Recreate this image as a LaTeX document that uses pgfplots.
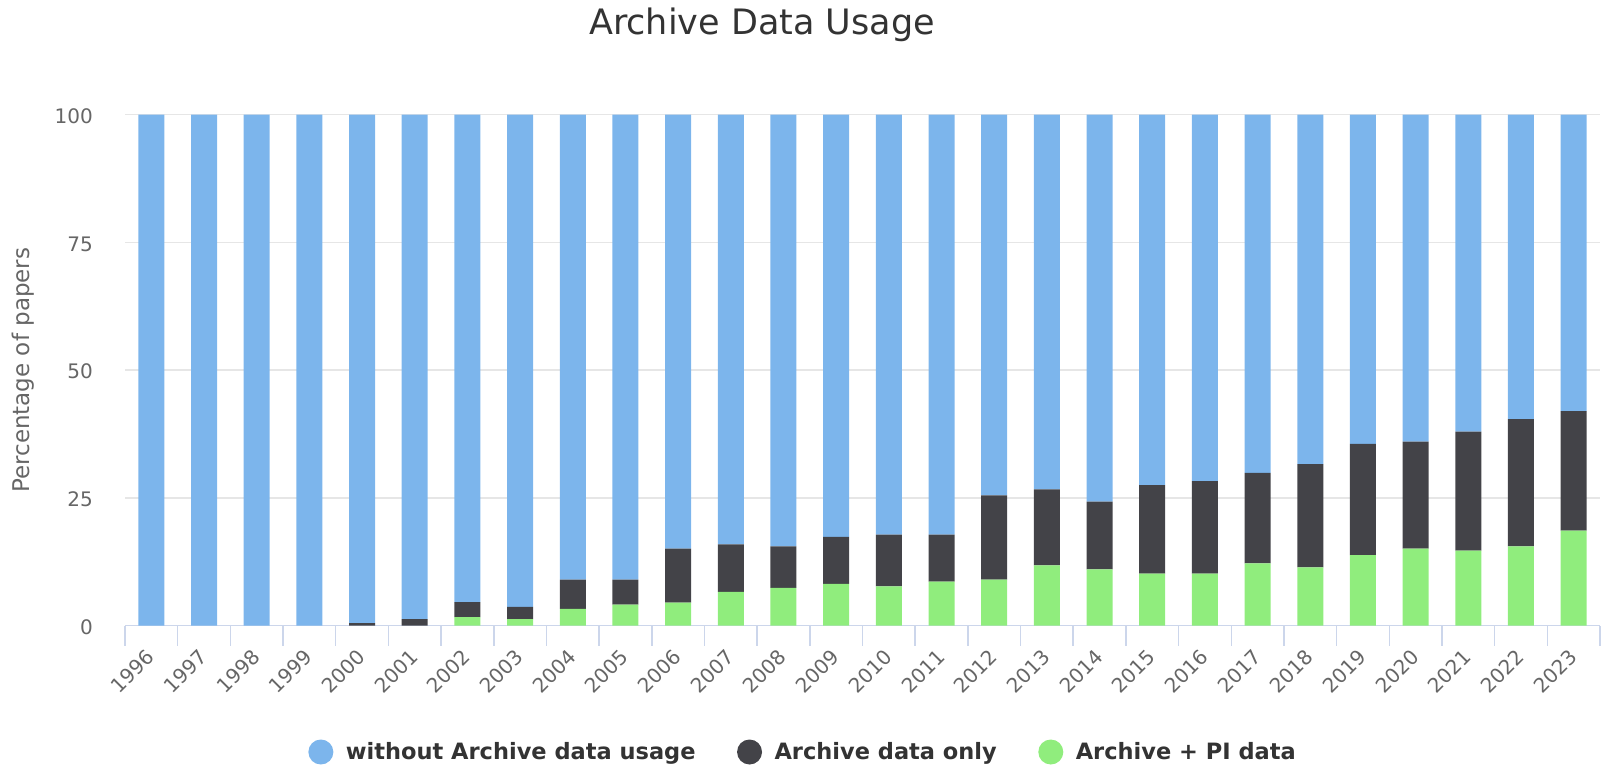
\documentclass[border=0pt]{standalone}
\usepackage{pgfplots}
\pgfplotsset{compat=1.18}
\usepackage{pgfplotstable}
\usepackage{fontspec}
\setmainfont{DejaVu Sans}
\definecolor{cblue}{HTML}{7CB5EC}
\definecolor{cdark}{HTML}{434348}
\definecolor{cgreen}{HTML}{90ED7D}
\definecolor{cgrid}{HTML}{E6E6E6}
\definecolor{caxis}{HTML}{CCD6EB}
\definecolor{ctick}{HTML}{666666}
\definecolor{ctitle}{HTML}{333333}

\pgfplotstableread{
x year green dark blue
0 1996 0 0 100
1 1997 0 0 100
2 1998 0 0 100
3 1999 0 0 100
4 2000 0 0.5 99.5
5 2001 0 1.3 98.7
6 2002 1.7 2.9 95.4
7 2003 1.3 2.4 96.3
8 2004 3.3 5.7 91.0
9 2005 4.1 4.9 91.0
10 2006 4.5 10.6 84.9
11 2007 6.6 9.3 84.1
12 2008 7.4 8.1 84.5
13 2009 8.2 9.2 82.6
14 2010 7.7 10.1 82.2
15 2011 8.6 9.2 82.2
16 2012 9.0 16.5 74.5
17 2013 11.8 14.9 73.3
18 2014 11.0 13.3 75.7
19 2015 10.2 17.3 72.5
20 2016 10.2 18.1 71.7
21 2017 12.2 17.7 70.1
22 2018 11.4 20.2 68.4
23 2019 13.8 21.8 64.4
24 2020 15.1 20.9 64.0
25 2021 14.7 23.3 62.0
26 2022 15.5 24.9 59.6
27 2023 18.6 23.4 58.0
}\datatable

\begin{document}
\begin{tikzpicture}
\useasboundingbox (0pt,0pt) rectangle (1606pt,767pt);
\node[anchor=base, text=ctitle, font=\fontsize{35}{42}\selectfont, inner sep=0pt] at (762pt,732pt) {Archive Data Usage};
\begin{axis}[
  at={(125pt,141.3pt)}, anchor=south west,
  scale only axis, width=1475pt, height=511pt,
  ybar stacked, bar width=26pt,
  xmin=-0.5, xmax=27.5, ymin=0, ymax=100,
  xtick={0,...,27},
  xticklabels={1996,1997,1998,1999,2000,2001,2002,2003,2004,2005,2006,2007,2008,2009,2010,2011,2012,2013,2014,2015,2016,2017,2018,2019,2020,2021,2022,2023},
  minor xtick={-0.5,0.5,...,27.5},
  ytick={0,25,50,75,100},
  major tick length=0pt, minor tick length=20pt,
  tick align=outside,
  every tick/.style={draw=caxis, line width=1.5pt},
  axis x line*=bottom, axis y line*=left,
  x axis line style={draw=caxis, line width=1.5pt, -},
  y axis line style={draw=none},
  ymajorgrids, grid style={draw=cgrid, line width=1.5pt},
  /pgf/number format/assume math mode=true,
  xticklabel style={xshift=-6pt, yshift=-22pt, rotate=45, anchor=north east, inner sep=0pt, text=ctick, font=\fontsize{20}{24}\selectfont},
  yticklabel style={xshift=-32pt, yshift=-1.5pt, anchor=east, inner sep=0pt, text=ctick, font=\fontsize{20}{24}\selectfont},
  ylabel={Percentage of papers},
  ylabel style={at={(axis description cs:-0.0692,0.5)}, anchor=center, inner sep=0pt, text=ctick, font=\fontsize{23}{27}\selectfont},
  legend columns=3, reverse legend,
  legend style={draw=none, fill=none, at={(axis description cs:0.4597,-0.2472)}, anchor=center,
    font=\bfseries\fontsize{22.5}{27}\selectfont, text=ctitle,
    /tikz/every even column/.append style={column sep=39.5pt}},
]
\addplot[fill=cgreen, draw=none, legend image code/.code={\fill[cgreen] (0pt,0pt) circle (12.5pt); \path (23pt,0pt);}] table[x=x, y=green] {\datatable};
\addplot[fill=cdark, draw=none, legend image code/.code={\fill[cdark] (0pt,0pt) circle (12.5pt); \path (23pt,0pt);}] table[x=x, y=dark] {\datatable};
\addplot[fill=cblue, draw=none, legend image code/.code={\fill[cblue] (0pt,0pt) circle (12.5pt); \path (23pt,0pt);}] table[x=x, y=blue] {\datatable};
\legend{Archive + PI data, Archive data only, without Archive data usage}
\end{axis}
\end{tikzpicture}
\end{document}
